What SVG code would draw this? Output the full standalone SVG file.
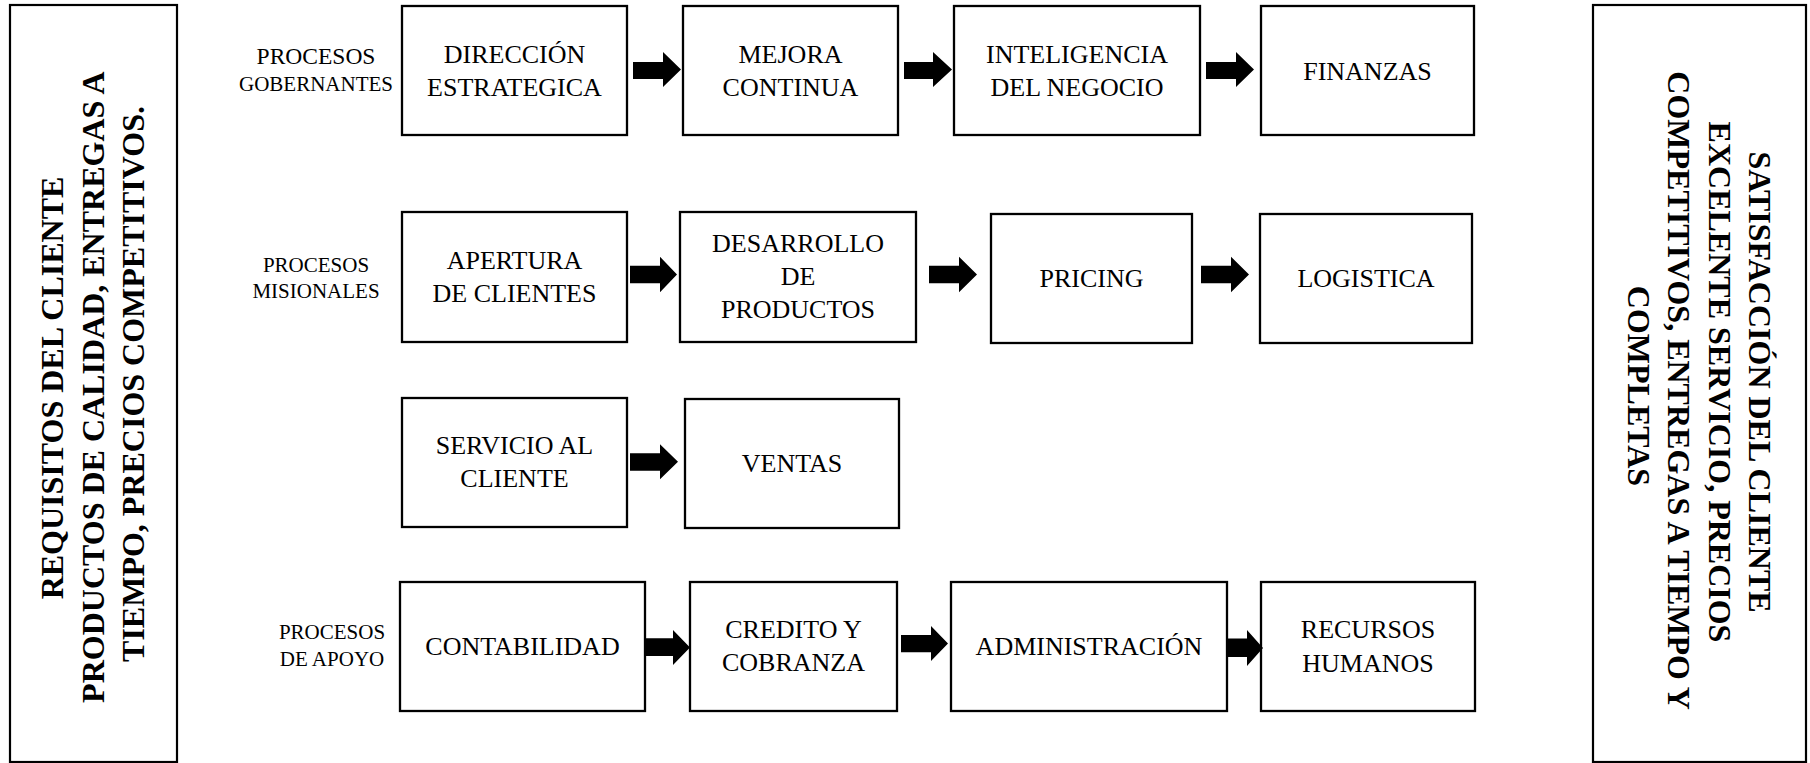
<svg xmlns="http://www.w3.org/2000/svg" width="1810" height="763" viewBox="0 0 1810 763">
<style>
.box{fill:#fff;stroke:#000;stroke-width:2.3}
.outer{fill:#fff;stroke:#000;stroke-width:2.2}
.t{font-family:"Liberation Serif","Times New Roman",serif;font-size:26px;fill:#000;text-anchor:middle}
.lbl{font-family:"Liberation Serif","Times New Roman",serif;font-size:21px;fill:#000;text-anchor:middle}
.big{font-family:"Liberation Serif","Times New Roman",serif;font-size:32px;font-weight:bold;fill:#000;text-anchor:middle}
.arrow{fill:#000;stroke:none}
</style>
<rect width="1810" height="763" fill="#fff"/>

<g id="requisitos">
<rect class="outer" x="10" y="5" width="167" height="757"/>
<text class="big" transform="translate(63,384) rotate(-90)">
<tspan x="0" y="0">REQUISITOS DEL CLIENTE</tspan>
<tspan x="0" y="40.5">PRODUCTOS DE CALIDAD, ENTREGAS A</tspan>
<tspan x="0" y="81">TIEMPO, PRECIOS COMPETITIVOS.</tspan>
</text>
</g>

<g id="satisfaccion">
<rect class="outer" x="1593" y="5" width="213" height="757"/>
<text class="big" transform="translate(1749,386) rotate(90)">
<tspan x="0" y="0">SATISFACCIÓN DEL CLIENTE</tspan>
<tspan x="0" y="40.3">EXCELENTE SERVICIO, PRECIOS</tspan>
<tspan x="8" y="80.6">COMPETITIVOS, ENTREGAS A TIEMPO Y</tspan>
<tspan x="0" y="121">COMPLETAS</tspan>
</text>
</g>

<g id="lbl-gobernantes">
<text class="lbl" x="316" y="64" style="font-size:23.5px">PROCESOS</text>
<text class="lbl" x="316" y="91">GOBERNANTES</text>
</g>
<g id="lbl-misionales">
<text class="lbl" x="316" y="272">PROCESOS</text>
<text class="lbl" x="316" y="298">MISIONALES</text>
</g>
<g id="lbl-apoyo">
<text class="lbl" x="332" y="639">PROCESOS</text>
<text class="lbl" x="332" y="666">DE APOYO</text>
</g>

<g id="direccion">
<rect class="box" x="402" y="6" width="225" height="129"/>
<text class="t" x="514.5" y="62.7">DIRECCIÓN</text>
<text class="t" x="514.5" y="95.7">ESTRATEGICA</text>
</g>
<g id="mejora">
<rect class="box" x="683" y="6" width="215" height="129"/>
<text class="t" x="790.5" y="62.7">MEJORA</text>
<text class="t" x="790.5" y="95.7">CONTINUA</text>
</g>
<g id="inteligencia">
<rect class="box" x="954" y="6" width="246" height="129"/>
<text class="t" x="1077" y="62.7">INTELIGENCIA</text>
<text class="t" x="1077" y="95.7">DEL NEGOCIO</text>
</g>
<g id="finanzas">
<rect class="box" x="1261" y="6" width="213" height="129"/>
<text class="t" x="1367.5" y="80">FINANZAS</text>
</g>

<g id="apertura">
<rect class="box" x="402" y="212" width="225" height="130"/>
<text class="t" x="514.5" y="269.3">APERTURA</text>
<text class="t" x="514.5" y="301.7">DE CLIENTES</text>
</g>
<g id="desarrollo">
<rect class="box" x="680" y="212" width="236" height="130"/>
<text class="t" x="798" y="252.3">DESARROLLO</text>
<text class="t" x="798" y="285">DE</text>
<text class="t" x="798" y="317.7">PRODUCTOS</text>
</g>
<g id="pricing">
<rect class="box" x="991" y="214" width="201" height="129"/>
<text class="t" x="1091.5" y="286.7">PRICING</text>
</g>
<g id="logistica">
<rect class="box" x="1260" y="214" width="212" height="129"/>
<text class="t" x="1366" y="286.7">LOGISTICA</text>
</g>

<g id="servicio">
<rect class="box" x="402" y="398" width="225" height="129"/>
<text class="t" x="514.5" y="454">SERVICIO AL</text>
<text class="t" x="514.5" y="486.7">CLIENTE</text>
</g>
<g id="ventas">
<rect class="box" x="685" y="399" width="214" height="129"/>
<text class="t" x="792" y="471.7">VENTAS</text>
</g>

<g id="contabilidad">
<rect class="box" x="400" y="582" width="245" height="129"/>
<text class="t" x="522.5" y="655">CONTABILIDAD</text>
</g>
<g id="credito">
<rect class="box" x="690" y="582" width="207" height="129"/>
<text class="t" x="793.5" y="638.3">CREDITO Y</text>
<text class="t" x="793.5" y="670.7">COBRANZA</text>
</g>
<g id="administracion">
<rect class="box" x="951" y="582" width="276" height="129"/>
<text class="t" x="1089" y="655">ADMINISTRACIÓN</text>
</g>
<g id="recursos">
<rect class="box" x="1261" y="582" width="214" height="129"/>
<text class="t" x="1368" y="638.3">RECURSOS</text>
<text class="t" x="1368" y="671.7">HUMANOS</text>
</g>

<g id="connectors">
<path class="arrow" d="M633,62 H663 V52 L681,69.5 L663,87 V79 H633 Z"/>
<path class="arrow" d="M904,62 H933 V52 L952,69.5 L933,87 V79 H904 Z"/>
<path class="arrow" d="M1206,62 H1236 V52 L1254,69.5 L1236,87 V79 H1206 Z"/>
<path class="arrow" d="M630,265.7 H660 V256.7 L677,274.5 L660,292.3 V283.3 H630 Z"/>
<path class="arrow" d="M929,265.7 H959 V256.7 L977,274.5 L959,292.3 V283.3 H929 Z"/>
<path class="arrow" d="M1201,265.7 H1231 V256.7 L1249,274.5 L1231,292.3 V283.3 H1201 Z"/>
<path class="arrow" d="M630,453.3 H660 V444.3 L678,461.8 L660,479.3 V470.7 H630 Z"/>
<path class="arrow" d="M644,638.3 H673 V630 L690,647.5 L673,665 V656 H644 Z"/>
<path class="arrow" d="M901,635 H931 V626 L948,643.5 L931,661 V652.3 H901 Z"/>
<path class="arrow" d="M1227,638.5 H1247 V630 L1263,648 L1247,666 V657 H1227 Z"/>
</g>
</svg>
